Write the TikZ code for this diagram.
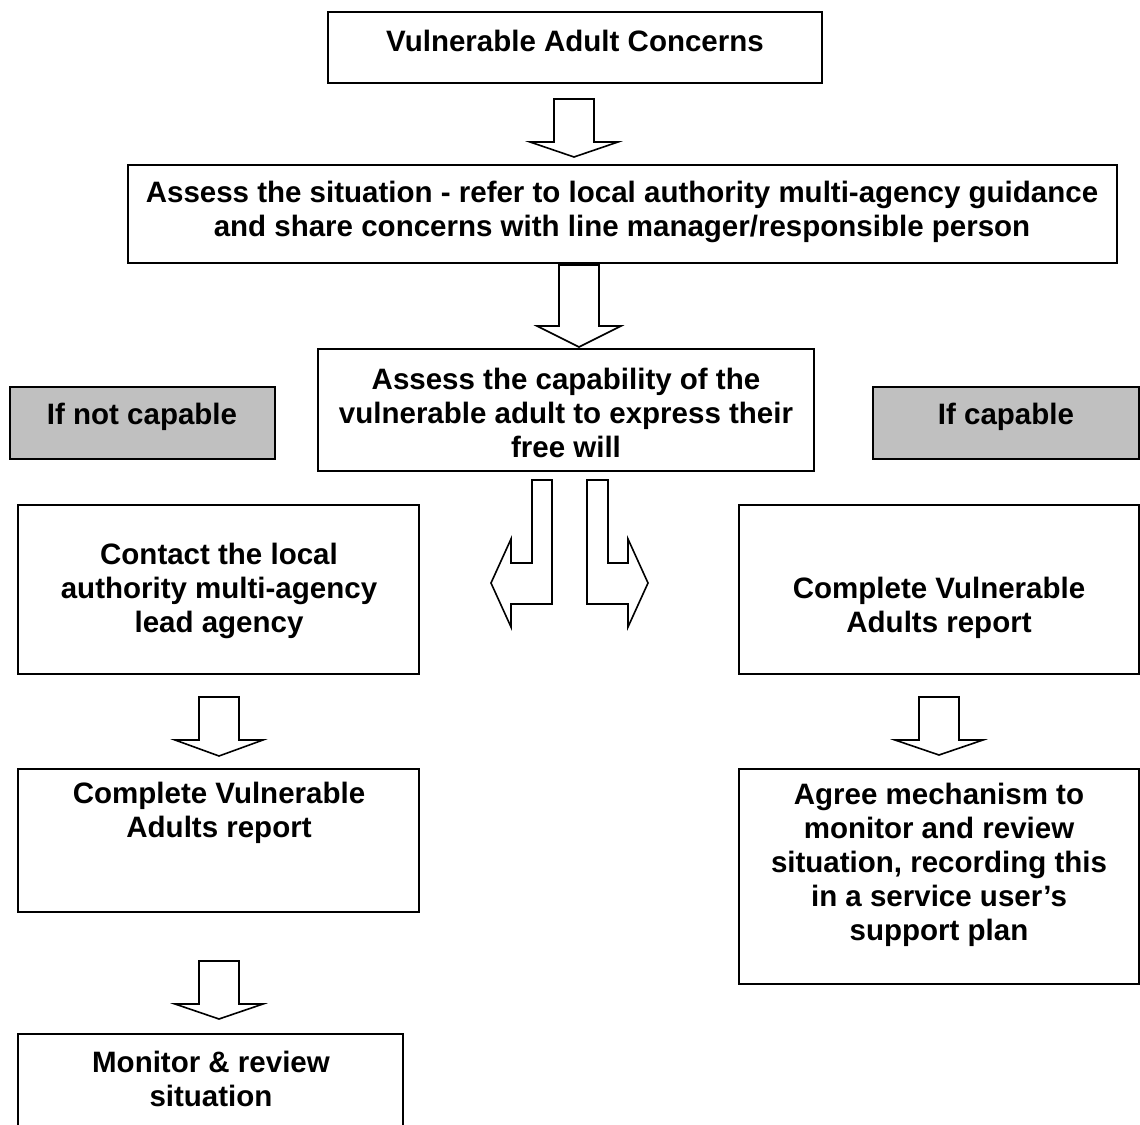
\documentclass[tikz,border=0pt]{standalone}
\usepackage{fontspec}
\setmainfont{Liberation Sans}
\usetikzlibrary{fit}
\definecolor{boxgray}{RGB}{192,192,192}
\begin{document}
\begin{tikzpicture}[x=1pt,y=-1pt,
  box/.style={draw=black, line width=2pt, inner sep=0pt},
  graybox/.style={box, fill=boxgray},
  txt/.style={align=center, inner sep=0pt, font=\bfseries\fontsize{29.5}{34}\selectfont},
  arr/.style={draw=black, fill=white, line width=1.6pt, line join=miter},
  pics/bdown/.style n args={3}{code={
    \draw[arr] (-20,0) -- (20,0) -- (20,#1) -- (#2,#1) -- (0,#3) -- (-#2,#1) -- (-20,#1) -- cycle;}}
]
\useasboundingbox (0,0) rectangle (1140,1124);
\fill[white] (0,0) rectangle (1140,1124);

% boxes
\node[box, fit={(328,12) (822,83)}] (b1) {};
\node[txt] (t1) at (575,41) {Vulnerable Adult Concerns};

\node[box, fit={(128,165) (1117,263)}] (b2) {};
\node[txt] (t2) at (622,212) {Assess the situation - refer to local authority multi-agency guidance\\and share concerns with line manager/responsible person};

\node[box, fit={(318,349) (814,471)}] (b3) {};
\node[txt] (t3) at (566,413) {Assess the capability of the\\vulnerable adult to express their\\free will};

\node[graybox, fit={(10,387) (275,459)}] (g1) {};
\node[txt] (tg1) at (142,417) {If not capable};

\node[graybox, fit={(873,387) (1139,459)}] (g2) {};
\node[txt] (tg2) at (1006,417) {If capable};

\node[box, fit={(18,505) (419,674)}] (b4) {};
\node[txt] (t4) at (219,591) {Contact the local\\authority multi-agency\\lead agency};

\node[box, fit={(739,505) (1139,674)}] (b5) {};
\node[txt] (t5) at (939,608) {Complete Vulnerable\\Adults report};

\node[box, fit={(18,769) (419,912)}] (b6) {};
\node[txt] (t6) at (219,813) {Complete Vulnerable\\Adults report};

\node[box, fit={(739,769) (1139,984)}] (b7) {};
\node[txt] (t7) at (939,865) {Agree mechanism to\\monitor and review\\situation, recording this\\in a service user's\\support plan};

\node[box, fit={(18,1034) (403,1140)}] (b8) {};
\node[txt] (t8) at (211,1079) {Monitor \& review\\situation};

% block arrows
\pic at (574,99) {bdown={43}{44}{58}};
\pic at (579,265) {bdown={61}{42}{82}};
\pic at (219,697) {bdown={43}{44}{59}};
\pic at (219,961) {bdown={43}{44}{58}};
\pic at (939,697) {bdown={43}{44}{58}};

% bent arrows
\draw[arr] (532,480) -- (552,480) -- (552,604) -- (511,604) -- (511,627) -- (491,583) -- (511,539) -- (511,563) -- (532,563) -- cycle;
\draw[arr] (587,480) -- (608,480) -- (608,563) -- (628,563) -- (628,539) -- (648,583) -- (628,627) -- (628,604) -- (587,604) -- cycle;
\end{tikzpicture}
\end{document}
